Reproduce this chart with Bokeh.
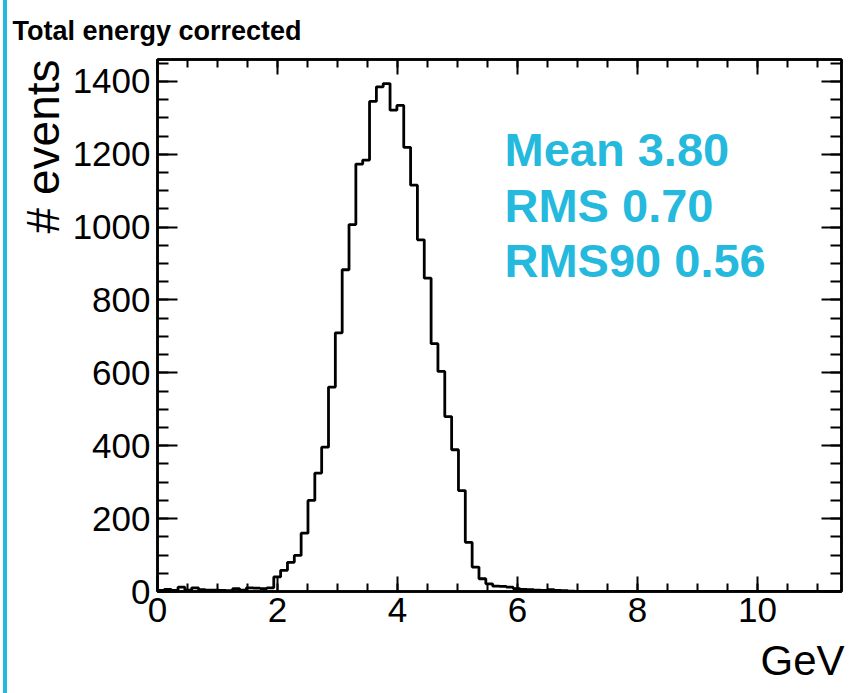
from bokeh.plotting import figure
from bokeh.models import (LinearAxis, SingleIntervalTicker, Label, Title,
                          CustomJSTickFormatter, Range1d)
from bokeh.embed import file_html
from bokeh.resources import INLINE

# ---- data ----
BIN_WIDTH = 0.114          # GeV per bin
X_MAX = 11.4
Y_MAX = 1460
counts = [
    3, 6, 3, 12, 4, 10, 5, 4, 4, 3,
    2, 8, 4, 10, 9, 8, 10, 40, 58, 80,
    99, 160, 250, 325, 396, 561, 710, 883, 1007, 1173,
    1184, 1345, 1385, 1394, 1321, 1334, 1219, 1115, 965, 860,
    680, 604, 480, 389, 277, 135, 67, 35, 21, 15,
    14, 12, 8, 6, 5, 4, 3, 5, 3, 2,
    1, 0, 0, 0, 0, 0, 0, 0, 0, 0,
]
counts = counts + [0] * (100 - len(counts))
title_text = "Total energy corrected"
y_label = "# events"
x_label = "GeV"
stats_lines = ["Mean 3.80", "RMS 0.70", "RMS90 0.56"]

CYAN = "#25B9DD"
FONT = "Liberation Sans"

edges = [i * BIN_WIDTH for i in range(len(counts) + 1)]
ys = counts + [counts[-1]]

W, H = 853, 693
ML, MR, MT, MB = 157, 12, 59, 102
p = figure(width=W, height=H, output_backend="svg", toolbar_location=None,
           x_range=Range1d(0, X_MAX), y_range=Range1d(0, Y_MAX),
           min_border_left=ML, min_border_right=MR,
           min_border_top=MT, min_border_bottom=MB,
           x_axis_type=None, y_axis_type=None)
p.background_fill_color = "white"
p.border_fill_color = None
p.styles = {"background": "linear-gradient(to right, white 3px, %s 3px, %s 7px, white 7px)" % (CYAN, CYAN)}
p.outline_line_color = "black"
p.outline_line_width = 2.5
p.xgrid.visible = False
p.ygrid.visible = False

# frame geometry helpers (pixel -> data) for in-frame annotations
FX0, FY0 = ML, H - MB
SX = (W - ML - MR) / X_MAX
SY = (H - MT - MB) / Y_MAX
def dx(px):
    return (px - FX0) / SX
def dy(py):
    return (FY0 - py) / SY

blank = CustomJSTickFormatter(code="return ''")

def style_axis(ax, major_in, minor_in, labels=True):
    ax.axis_line_color = "black"
    ax.axis_line_width = 2.5
    ax.major_tick_line_color = "black"
    ax.major_tick_line_width = 2
    ax.minor_tick_line_color = "black"
    ax.minor_tick_line_width = 2
    ax.major_tick_in = major_in
    ax.major_tick_out = 0
    ax.minor_tick_in = minor_in
    ax.minor_tick_out = 0
    if labels:
        ax.major_label_text_font = FONT
        ax.major_label_text_font_size = "35px"
        ax.major_label_text_color = "black"
    else:
        ax.formatter = blank
        ax.major_label_text_font_size = "1px"
        ax.major_label_standoff = 0

xb = LinearAxis(ticker=SingleIntervalTicker(interval=2, num_minor_ticks=4))
style_axis(xb, 15, 8)
xb.major_label_standoff = 6
p.add_layout(xb, "below")

xt = LinearAxis(ticker=SingleIntervalTicker(interval=2, num_minor_ticks=4))
style_axis(xt, 15, 8, labels=False)
p.add_layout(xt, "above")

yl = LinearAxis(ticker=SingleIntervalTicker(interval=200, num_minor_ticks=4))
style_axis(yl, 20, 11)
yl.major_label_standoff = 7
p.add_layout(yl, "left")

yr = LinearAxis(ticker=SingleIntervalTicker(interval=200, num_minor_ticks=4))
style_axis(yr, 20, 11, labels=False)
p.add_layout(yr, "right")

# histogram outline
p.step(x=edges, y=ys, mode="after", line_color="black", line_width=2.8)

# titles (panels outside the frame)
p.title.text = title_text
p.title.text_font = FONT
p.title.text_font_style = "bold"
p.title.text_font_size = "27px"
p.title.text_color = "black"
p.title.align = "left"
p.title.vertical_align = "top"
p.title.offset = -145
p.title.standoff = 24

p.add_layout(Title(text=y_label, text_font=FONT, text_font_size="46px",
                   text_font_style="normal", text_color="black",
                   align="right", offset=0, standoff=2), "left")

p.add_layout(Title(text=x_label, text_font=FONT, text_font_size="42px",
                   text_font_style="normal", text_color="black",
                   align="right", offset=-3, standoff=20), "below")

for i, line in enumerate(stats_lines):
    p.add_layout(Label(x=dx(504), y=dy(149 + 55.5 * i), text=line, text_font=FONT,
                       text_font_style="bold", text_font_size="47px",
                       text_color=CYAN, text_baseline="alphabetic", text_align="left"))

open("out.html", "w").write(file_html(p, INLINE))
